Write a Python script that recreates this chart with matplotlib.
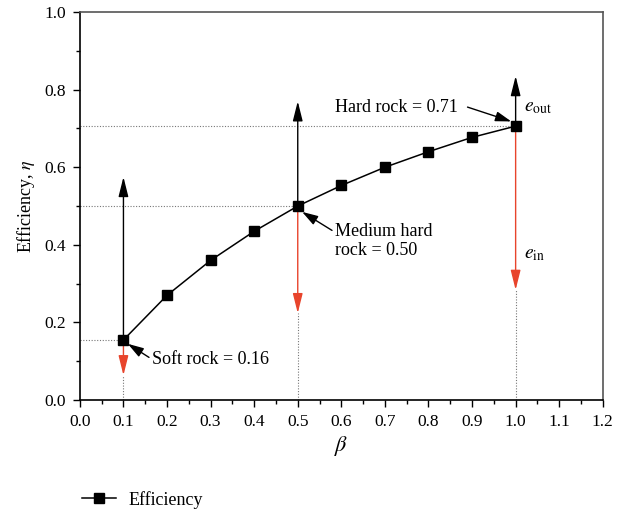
import matplotlib
matplotlib.use("Agg")
import matplotlib.pyplot as plt
from matplotlib.ticker import MultipleLocator, FormatStrFormatter

plt.rcParams['font.family'] = ['Liberation Serif', 'DejaVu Serif']
plt.rcParams['mathtext.fontset'] = 'stix'

beta = [0.1, 0.2, 0.3, 0.4, 0.5, 0.6, 0.7, 0.8, 0.9, 1.0]
eta = [0.155, 0.27, 0.36, 0.435, 0.50, 0.553, 0.60, 0.64, 0.677, 0.706]

rock_beta = [0.1, 0.5, 1.0]
rock_eta = [0.155, 0.50, 0.706]
e_out_top = [0.575, 0.77, 0.835]
e_in_bottom = [0.064, 0.224, 0.284]

red = '#e8442c'
fs = 13
tfs = 12.5

fig = plt.figure(figsize=(6.24, 5.11), dpi=100)
ax = fig.add_axes([0.128, 0.217, 0.838, 0.7595])

# dotted guides
for b, e, lo in zip(rock_beta, rock_eta, e_in_bottom):
    ax.plot([0, b], [e, e], ls=(0, (1, 1.5)), color='#777777', lw=0.8, zorder=1)
    ax.plot([b, b], [0, lo], ls=(0, (1, 1.5)), color='#777777', lw=0.8, zorder=1)

# arrows
for b, e, hi, lo in zip(rock_beta, rock_eta, e_out_top, e_in_bottom):
    ax.annotate('', xy=(b, hi), xytext=(b, e),
                arrowprops=dict(arrowstyle='-|>,head_length=1.0,head_width=0.25',
                                color='black', lw=1.0, shrinkA=0, shrinkB=0,
                                mutation_scale=12), zorder=2)
    ax.annotate('', xy=(b, lo), xytext=(b, e),
                arrowprops=dict(arrowstyle='-|>,head_length=1.0,head_width=0.25',
                                color=red, lw=1.0, shrinkA=0, shrinkB=0,
                                mutation_scale=12), zorder=2)

line, = ax.plot(beta, eta, color='black', marker='s', markersize=7, lw=1.1,
                label='Efficiency', zorder=3)

# annotations
apr = dict(arrowstyle='-|>,head_length=0.8,head_width=0.25', color='black',
           lw=1.0, shrinkA=0, shrinkB=0, mutation_scale=12)
ax.annotate('Soft rock = 0.16', xy=(0.11, 0.145), xytext=(0.165, 0.105),
            fontsize=fs, ha='left', va='center', arrowprops=dict(apr, relpos=(-0.02, 0.6)))
ax.annotate('Medium hard\nrock = 0.50', xy=(0.51, 0.485), xytext=(0.585, 0.41),
            fontsize=fs, ha='left', va='center', linespacing=1.15,
            arrowprops=dict(apr, relpos=(-0.02, 0.78)))
ax.annotate('Hard rock = 0.71', xy=(0.99, 0.718), xytext=(0.867, 0.755),
            fontsize=fs, ha='right', va='center', arrowprops=dict(apr, relpos=(1.08, 0.5)))
ax.text(1.02, 0.755, r'$e_{\mathrm{out}}$', fontsize=fs + 1, ha='left', va='center')
ax.text(1.02, 0.375, r'$e_{\mathrm{in}}$', fontsize=fs + 1, ha='left', va='center')

ax.set_xlim(0, 1.2)
ax.set_ylim(0, 1.0)
ax.xaxis.set_major_locator(MultipleLocator(0.1))
ax.xaxis.set_minor_locator(MultipleLocator(0.05))
ax.yaxis.set_major_locator(MultipleLocator(0.2))
ax.yaxis.set_minor_locator(MultipleLocator(0.1))
ax.xaxis.set_major_formatter(FormatStrFormatter('%.1f'))
ax.yaxis.set_major_formatter(FormatStrFormatter('%.1f'))
ax.tick_params(which='major', direction='out', length=5, width=1, labelsize=tfs, pad=5)
ax.tick_params(which='minor', direction='out', length=3, width=1)
for s in ['top', 'right']:
    ax.spines[s].set_color('#555555')
    ax.spines[s].set_linewidth(1.2)
for s in ['left', 'bottom']:
    ax.spines[s].set_linewidth(1.2)

ax.set_xlabel(r'$\beta$', fontsize=fs + 3, labelpad=3)
ax.set_ylabel(r'Efficiency, $\eta$', fontsize=fs, labelpad=5)

fig.legend(handles=[line], labels=['Efficiency'], loc='center left',
           bbox_to_anchor=(0.105, 0.022), frameon=False, fontsize=fs,
           handlelength=1.9, handletextpad=0.7)

fig.savefig('out.png', dpi=100)
